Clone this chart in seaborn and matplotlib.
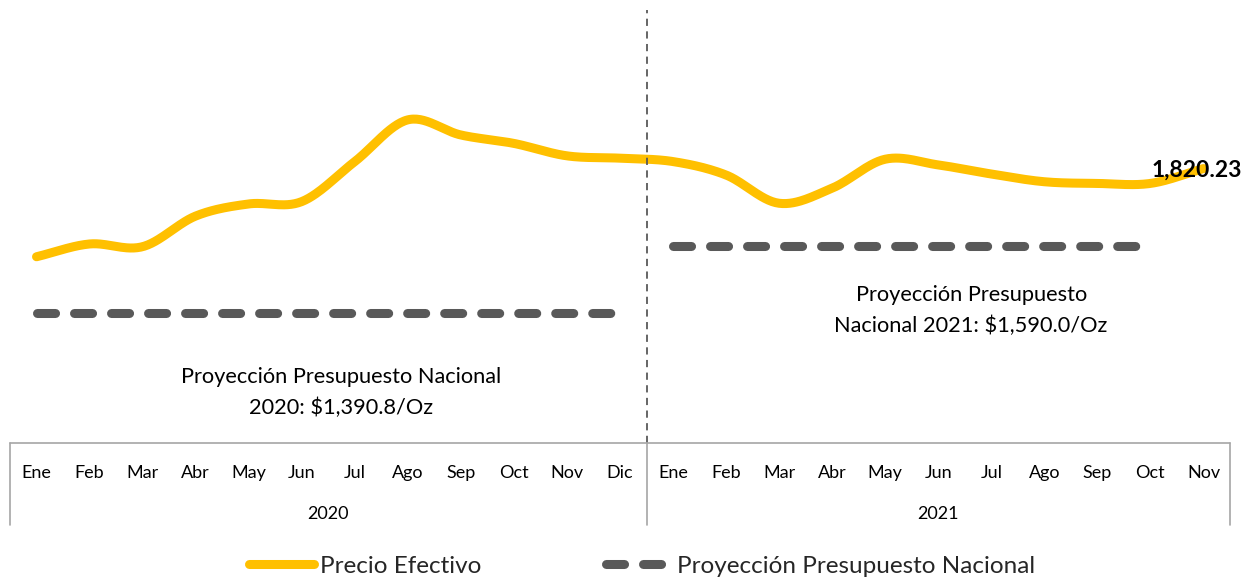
import numpy as np
import pandas as pd
import matplotlib
matplotlib.use("Agg")
import matplotlib.pyplot as plt
import seaborn as sns

# ---------------- data ----------------
months = ["Ene", "Feb", "Mar", "Abr", "May", "Jun", "Jul", "Ago", "Sep", "Oct", "Nov", "Dic",
          "Ene", "Feb", "Mar", "Abr", "May", "Jun", "Jul", "Ago", "Sep", "Oct", "Nov"]
years = ["2020", "2021"]
precio_efectivo = [1558, 1596, 1588, 1679, 1715, 1722, 1841, 1965, 1920, 1895, 1858, 1851,
                   1841, 1801, 1717, 1762, 1848, 1831, 1804, 1781, 1776, 1776, 1820.23]
proy_2020 = 1390.8
proy_2021 = 1590.0
proy_2020_months = 12   # Ene-Dic 2020
proy_2021_months = 10   # Ene-Oct 2021
last_label = "1,820.23"

GOLD = "#FFC000"
GRAY = "#595959"
AXGRAY = "#A6A6A6"

sns.set_style("white")
plt.rcParams["font.family"] = ["Lato", "DejaVu Sans"]

W, H = 1247, 577
fig = plt.figure(figsize=(W / 100, H / 100), dpi=100)

def fx(px):
    return px / W

def fy(py):
    return 1 - py / H

left, right = 10, 1230
ax = fig.add_axes([fx(left), fy(443), fx(right - left), fy(10) - fy(443)])
ax2 = fig.add_axes([fx(left), fy(525), fx(right - left), fy(443) - fy(525)])

n = len(precio_efectivo)
xs = np.arange(n)


def smooth(x, y, steps=30):
    """Catmull-Rom style smoothing for display (like Excel 'smoothed line')."""
    x = np.asarray(x, float)
    y = np.asarray(y, float)
    px = np.concatenate([[2 * x[0] - x[1]], x, [2 * x[-1] - x[-2]]])
    py = np.concatenate([[2 * y[0] - y[1]], y, [2 * y[-1] - y[-2]]])
    ox, oy = [], []
    for i in range(1, len(px) - 2):
        p0, p1, p2, p3 = (np.array([px[j], py[j]]) for j in (i - 1, i, i + 1, i + 2))
        c1 = p1 + (p2 - p0) / 6
        c2 = p2 - (p3 - p1) / 6
        t = np.linspace(0, 1, steps, endpoint=(i == len(px) - 3))
        b = ((1 - t) ** 3)[:, None] * p1 + (3 * (1 - t) ** 2 * t)[:, None] * c1 \
            + (3 * (1 - t) * t ** 2)[:, None] * c2 + (t ** 3)[:, None] * p2
        ox.extend(b[:, 0])
        oy.extend(b[:, 1])
    return np.array(ox), np.array(oy)


sx, sy = smooth(xs, precio_efectivo)
sns.lineplot(x=sx, y=sy, sort=False, ax=ax, color=GOLD, lw=6.5,
             solid_capstyle="round", label="Precio Efectivo", legend=False)

p20x = np.arange(proy_2020_months)
p21x = np.arange(12, 12 + proy_2021_months)
sns.lineplot(x=p20x, y=[proy_2020] * len(p20x), ax=ax, color=GRAY, lw=6.5, legend=False)
sns.lineplot(x=p21x, y=[proy_2021] * len(p21x), ax=ax, color=GRAY, lw=6.5, legend=False)
for ln in ax.lines[1:]:
    ln.set_linestyle((0, (2.0, 2.1)))
    ln.set_dash_capstyle("round")

ax.axvline(11.5, color=GRAY, lw=1.3, ls=(0, (4, 3)))

ax.set_xlim(-0.5, n - 0.5)
ax.set_ylim(1004.3, 2291.6)
ax.axis("off")

ax.text(21.03, precio_efectivo[-1] - 5, last_label, ha="left", va="center",
        fontsize=16.5, fontweight="bold", color="black")
ax.text(5.74, 1154, "Proyección Presupuesto Nacional\n2020: $1,390.8/Oz", ha="center",
        va="center", fontsize=15.7, color="black", linespacing=1.65)
ax.text(17.62, 1397, "Proyección Presupuesto\nNacional 2021: $1,590.0/Oz", ha="center",
        va="center", fontsize=15.7, color="black", linespacing=1.65)

# category axis
ax2.set_xlim(-0.5, n - 0.5)
ax2.set_ylim(0, 1)
for s in ax2.spines.values():
    s.set_visible(False)
ax2.set_xticks([])
ax2.set_yticks([])
ax2.patch.set_alpha(0)
ax2.plot([-0.5, n - 0.5], [1, 1], color=AXGRAY, lw=1.2, clip_on=False)
for xv in (-0.5, 11.5, n - 0.5):
    ax2.plot([xv, xv], [0, 1], color=AXGRAY, lw=1.2, clip_on=False)
for i, m in enumerate(months):
    ax2.text(i, 0.64, m, ha="center", va="center", fontsize=13, color="black")
ax2.text(5.5, 0.13, years[0], ha="center", va="center", fontsize=13, color="black")
ax2.text(17, 0.13, years[1], ha="center", va="center", fontsize=13, color="black")

handles = [ax.lines[0], ax.lines[1]]
labels = ["Precio Efectivo", "Proyección Presupuesto Nacional"]
fig.legend(handles, labels, loc="center", bbox_to_anchor=(fx(642), fy(566)), ncol=2,
           frameon=False, fontsize=17.5, handlelength=2.7, handletextpad=0.25,
           columnspacing=5.1, borderaxespad=0)

fig.savefig("out.png", dpi=100)
